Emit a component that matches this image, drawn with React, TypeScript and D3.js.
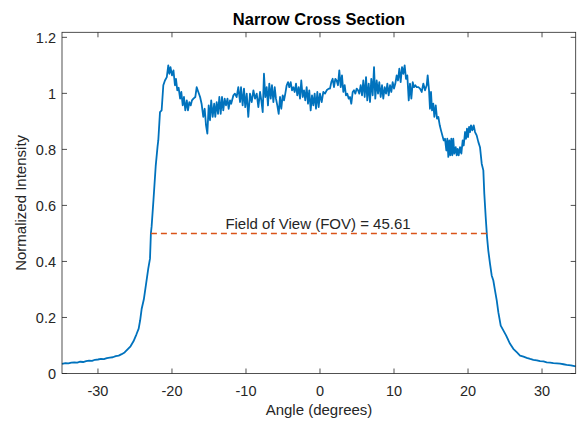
import * as React from 'react';
import * as d3 from 'd3';

const useMemo = React.useMemo;

// angle (degrees) and normalized intensity
const angle = [
  -34.86, -34.4, -34.0, -33.6, -33.2, -32.8, -32.4, -32.0, -31.6, -31.2,
  -30.8, -30.4, -30.0, -29.6, -29.2, -28.8, -28.4, -28.0, -27.6, -27.2,
  -26.8, -26.4, -26.0, -25.6, -25.2, -24.8, -24.5, -24.3, -24.1, -23.8,
  -23.5, -23.2, -22.97, -22.85, -22.75, -22.5, -22.2, -21.95, -21.85, -21.62,
  -21.4, -21.17, -20.95, -20.7, -20.5, -20.36, -20.2, -20.0, -19.8, -19.6,
  -19.46, -19.28, -19.1, -18.9, -18.74, -18.55, -18.38, -18.2, -18.0, -17.84,
  -17.66, -17.47, -17.3, -17.1, -16.85, -16.66, -16.44, -16.2, -16.0, -15.77,
  -15.58, -15.4, -15.22, -15.04, -14.86, -14.7, -14.5, -14.3, -14.15, -13.96,
  -13.78, -13.6, -13.42, -13.24, -13.07, -12.88, -12.7, -12.5, -12.34, -12.16,
  -12.0, -11.7, -11.5, -11.26, -11.04, -10.8, -10.67, -10.45, -10.27, -10.1,
  -9.9, -9.69, -9.46, -9.23, -9.0, -8.78, -8.55, -8.33, -8.1, -7.93,
  -7.74, -7.57, -7.39, -7.2, -7.03, -6.85, -6.66, -6.49, -6.3, -6.12,
  -5.95, -5.77, -5.58, -5.4, -5.23, -5.04, -4.86, -4.69, -4.5, -4.32,
  -4.15, -3.96, -3.78, -3.6, -3.42, -3.24, -3.07, -2.88, -2.7, -2.53,
  -2.34, -2.16, -1.99, -1.8, -1.62, -1.45, -1.26, -1.08, -0.9, -0.72,
  -0.54, -0.36, -0.18, 0.0, 0.23, 0.45, 0.68, 0.9, 1.18, 1.35,
  1.53, 1.71, 1.89, 2.07, 2.25, 2.43, 2.61, 2.8, 2.97, 3.15,
  3.34, 3.51, 3.69, 3.88, 4.05, 4.23, 4.42, 4.59, 4.77, 4.96,
  5.14, 5.31, 5.5, 5.68, 5.85, 6.04, 6.22, 6.39, 6.58, 6.76,
  6.93, 7.12, 7.3, 7.47, 7.66, 7.84, 8.01, 8.2, 8.38, 8.55,
  8.74, 8.92, 9.1, 9.28, 9.46, 9.64, 9.82, 10.0, 10.18, 10.36,
  10.54, 10.72, 10.9, 11.08, 11.26, 11.44, 11.62, 11.8, 11.99, 12.16,
  12.34, 12.53, 12.7, 12.88, 13.07, 13.3, 13.51, 13.74, 13.96, 14.19,
  14.42, 14.55, 14.73, 14.86, 15.0, 15.14, 15.31, 15.45, 15.64, 15.81,
  15.99, 16.18, 16.35, 16.53, 16.72, 16.89, 17.07, 17.2, 17.34, 17.47,
  17.61, 17.74, 17.88, 18.01, 18.15, 18.34, 18.47, 18.6, 18.74, 18.92,
  19.1, 19.28, 19.42, 19.6, 19.73, 19.86, 20.0, 20.14, 20.27, 20.4,
  20.58, 20.77, 20.95, 21.17, 21.4, 21.62, 21.85, 22.07, 22.2, 22.39,
  22.57, 22.74, 22.97, 23.2, 23.42, 23.65, 23.88, 24.1, 24.42, 24.77,
  25.14, 25.68, 26.12, 26.58, 27.03, 27.5, 27.93, 28.4, 28.83, 29.3,
  29.73, 30.2, 30.63, 31.1, 31.53, 32.0, 32.43, 32.9, 33.33, 33.9,
  34.55,
];

const intensity = [
  0.034, 0.037, 0.036, 0.039, 0.040, 0.039, 0.042, 0.041, 0.044, 0.046,
  0.045, 0.049, 0.050, 0.052, 0.051, 0.055, 0.057, 0.058, 0.062, 0.064,
  0.069, 0.075, 0.086, 0.097, 0.115, 0.140, 0.160, 0.190, 0.230, 0.265,
  0.320, 0.375, 0.410, 0.500, 0.525, 0.620, 0.740, 0.810, 0.832, 0.933,
  0.939, 1.029, 1.046, 1.058, 1.100, 1.070, 1.094, 1.064, 1.082, 1.029,
  1.052, 1.011, 1.020, 0.981, 1.005, 0.957, 0.987, 0.939, 0.975, 0.939,
  0.969, 0.957, 0.975, 0.981, 0.987, 1.022, 1.005, 0.987, 0.963, 0.916,
  0.945, 0.886, 0.856, 0.957, 0.904, 0.975, 0.916, 0.963, 0.916, 0.969,
  0.927, 0.987, 0.927, 0.987, 0.939, 0.981, 0.957, 0.981, 0.945, 0.975,
  0.963, 0.993, 0.999, 0.987, 1.022, 0.969, 1.022, 0.957, 1.017, 0.951,
  0.999, 0.916, 0.999, 0.969, 1.011, 0.981, 0.999, 0.951, 1.005, 0.975,
  0.933, 1.070, 0.987, 1.022, 0.957, 1.035, 0.981, 1.029, 0.969, 1.022,
  0.981, 0.957, 0.927, 0.987, 0.945, 0.993, 0.975, 0.999, 1.029, 1.040,
  1.022, 1.040, 1.011, 1.022, 1.005, 1.035, 0.993, 1.022, 0.981, 1.046,
  0.987, 1.011, 0.975, 1.022, 0.963, 1.011, 0.939, 0.993, 0.957, 0.999,
  0.945, 1.005, 0.951, 0.999, 0.969, 1.005, 0.999, 1.011, 1.017, 1.017,
  1.040, 1.052, 1.022, 1.052, 1.046, 1.029, 1.082, 1.022, 1.064, 1.005,
  1.029, 0.993, 0.999, 0.981, 0.987, 0.963, 1.005, 1.011, 0.999, 1.017,
  1.011, 0.999, 1.029, 0.993, 1.046, 0.987, 1.058, 0.975, 1.035, 0.969,
  1.052, 0.993, 1.094, 0.981, 1.046, 0.999, 1.040, 0.987, 1.029, 0.981,
  1.022, 0.999, 1.035, 0.993, 1.029, 1.005, 1.040, 1.017, 1.035, 1.064,
  1.046, 1.088, 1.040, 1.094, 1.070, 1.100, 1.052, 1.064, 0.975, 1.035,
  0.981, 1.040, 1.022, 1.029, 1.022, 1.022, 1.017, 1.005, 1.035, 1.011,
  1.029, 1.064, 1.011, 0.945, 1.005, 0.939, 0.963, 0.916, 0.957, 0.910,
  0.916, 0.886, 0.868, 0.850, 0.832, 0.838, 0.796, 0.838, 0.773, 0.832,
  0.779, 0.838, 0.779, 0.838, 0.785, 0.808, 0.779, 0.802, 0.779, 0.808,
  0.785, 0.832, 0.814, 0.862, 0.838, 0.874, 0.844, 0.880, 0.862, 0.886,
  0.868, 0.886, 0.862, 0.850, 0.826, 0.808, 0.749, 0.725, 0.642, 0.558,
  0.487, 0.439, 0.392, 0.350, 0.332, 0.296, 0.261, 0.218, 0.171, 0.154,
  0.136, 0.106, 0.088, 0.076, 0.064, 0.060, 0.056, 0.052, 0.049, 0.047,
  0.044, 0.043, 0.040, 0.039, 0.037, 0.036, 0.035, 0.033, 0.031, 0.029,
  0.025,
];

const xTicks = [-30, -20, -10, 0, 10, 20, 30];
const yTicks = [0, 0.2, 0.4, 0.6, 0.8, 1, 1.2];
const fovRange = [-22.85, 22.76];
const fovLevel = 0.5;
const fovLabel = 'Field of View (FOV) = 45.61';

const W = 577;
const H = 421;
const FONT = '"Liberation Sans", Arial, Helvetica, sans-serif';
const AXIS = '#262626';

export default function App() {
  const x = useMemo(
    () => d3.scaleLinear().domain([-34.86, 34.55]).range([62, 575.7]),
    []
  );
  const y = useMemo(
    () => d3.scaleLinear().domain([0, 1.218]).range([373.5, 32.3]),
    []
  );

  const path = useMemo(() => {
    const pts: [number, number][] = angle.map((a, i) => [a, intensity[i]]);
    return d3
      .line<[number, number]>()
      .x(d => x(d[0]))
      .y(d => y(d[1]))(pts) as string;
  }, [x, y]);

  const [x0, x1] = x.range();
  const [y0, y1] = y.range();
  const tick = 5;

  return (
    <svg
      width={W}
      height={H}
      style={{ position: 'absolute', left: 0, top: 0, background: '#fff' }}
      fontFamily={FONT}
    >
      <rect x={0} y={0} width={W} height={H} fill="#fff" />

      {/* data */}
      <path d={path} fill="none" stroke="#0072BD" strokeWidth={1.8} strokeLinejoin="round" />

      {/* FOV marker */}
      <line
        x1={x(fovRange[0])}
        x2={x(fovRange[1])}
        y1={y(fovLevel)}
        y2={y(fovLevel)}
        stroke="#D95319"
        strokeWidth={1.5}
        strokeDasharray="6 4"
      />
      <text x={x(0) - 2} y={229} textAnchor="middle" fontSize={15} fill={AXIS}>
        {fovLabel}
      </text>

      {/* box */}
      <rect
        x={x0}
        y={y1}
        width={x1 - x0}
        height={y0 - y1}
        fill="none"
        stroke={AXIS}
        strokeWidth={0.8}
      />

      {xTicks.map(t => (
        <g key={'x' + t}>
          <line x1={x(t)} x2={x(t)} y1={y0} y2={y0 - tick} stroke={AXIS} strokeWidth={0.8} />
          <line x1={x(t)} x2={x(t)} y1={y1} y2={y1 + tick} stroke={AXIS} strokeWidth={0.8} />
          <text x={x(t)} y={396} textAnchor="middle" fontSize={14.5} fill={AXIS}>
            {t}
          </text>
        </g>
      ))}

      {yTicks.map(t => (
        <g key={'y' + t}>
          <line x1={x0} x2={x0 + tick} y1={y(t)} y2={y(t)} stroke={AXIS} strokeWidth={0.8} />
          <line x1={x1} x2={x1 - tick} y1={y(t)} y2={y(t)} stroke={AXIS} strokeWidth={0.8} />
          <text
            x={56}
            y={y(t)}
            dy="0.36em"
            textAnchor="end"
            fontSize={14.5}
            fill={AXIS}
          >
            {t}
          </text>
        </g>
      ))}

      <text x={319} y={25} textAnchor="middle" fontSize={16.5} fontWeight="bold" fill="#000">
        Narrow Cross Section
      </text>
      <text x={319} y={415} textAnchor="middle" fontSize={15} fill={AXIS}>
        Angle (degrees)
      </text>
      <text
        transform={`translate(26, ${(y0 + y1) / 2}) rotate(-90)`}
        textAnchor="middle"
        fontSize={15}
        fill={AXIS}
      >
        Normalized Intensity
      </text>
    </svg>
  );
}
